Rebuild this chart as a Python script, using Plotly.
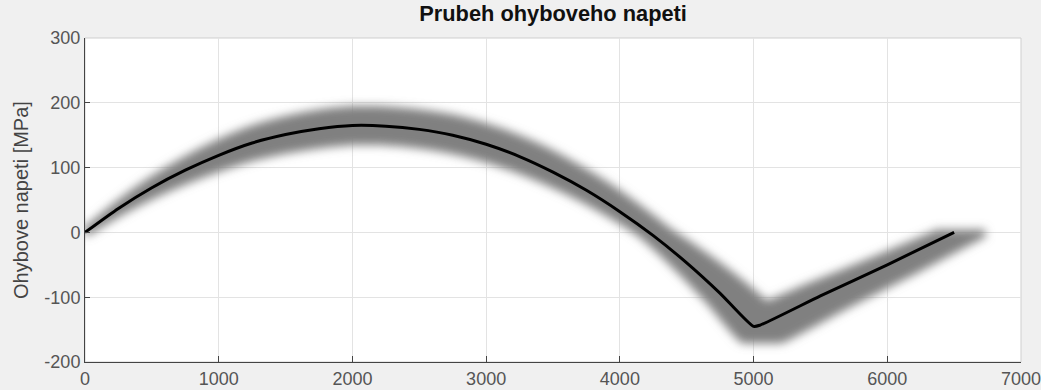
import numpy as np
import plotly.graph_objects as go

# Bending stress along the shaft [MPa] vs. position [mm]
position = [0, 250, 500, 750, 1000, 1250, 1500, 1750, 2000, 2250, 2500, 2750,
            3000, 3250, 3500, 3750, 4000, 4250, 4500, 4750, 5000, 5050,
            5500, 6000, 6500]
stress = [0, 37, 69, 96, 119, 138, 151, 160, 165, 164, 159, 150,
          136, 117, 93, 65, 32, -5, -47, -94, -145, -143,
          -98, -50, 0]

x_ticks = [0, 1000, 2000, 3000, 4000, 5000, 6000, 7000]
y_ticks = [-200, -100, 0, 100, 200, 300]

title_text = "Prubeh ohyboveho napeti"
y_title = "Ohybove napeti [MPa]"

FONT = "Liberation Sans, Arial, Helvetica, sans-serif"

xs = np.array(position, dtype=float)
ys = np.array(stress, dtype=float)

fig = go.Figure()

# Grey envelope: union of scaled copies of the curve, softened with a blur filter
band_x, band_y = [], []
for sx in np.linspace(0.985, 1.035, 7):
    for sy in np.linspace(0.86, 1.14, 9):
        band_x += list(xs * sx) + [None]
        band_y += list(ys * sy) + [None]

fig.add_trace(go.Scatter(
    x=band_x, y=band_y, mode="lines", connectgaps=False,
    line=dict(color="#808080", width=8, shape="spline", smoothing=0.6),
    hoverinfo="skip", showlegend=False,
))

# Main curve
fig.add_trace(go.Scatter(
    x=xs, y=ys, mode="lines",
    line=dict(color="black", width=3, shape="spline", smoothing=0.6),
    showlegend=False,
))

fig.update_layout(
    width=1041, height=390,
    margin=dict(l=85, r=20, t=38, b=28, autoexpand=False),
    paper_bgcolor="#f0f0f0",
    plot_bgcolor="white",
    font=dict(family=FONT, size=18, color="#4d4d4d"),
    title=dict(text=f"<b>{title_text}</b>", x=0.5313, xanchor="center",
               y=0.967, yanchor="middle",
               font=dict(family=FONT, size=21.8, color="#111111")),
    shapes=[dict(type="rect", xref="paper", yref="paper", x0=0, y0=0, x1=1, y1=1,
                 line=dict(color="#cfcfcf", width=1), layer="below")],
    annotations=[dict(text=y_title, xref="paper", yref="paper",
                      x=-(85 - 21) / 936, y=0.5, xanchor="center", yanchor="middle",
                      textangle=-90, showarrow=False,
                      font=dict(family=FONT, size=20, color="#444444"))],
)

fig.update_xaxes(
    range=[0, 7000], tickvals=x_ticks, ticktext=[str(v) for v in x_ticks],
    showgrid=True, gridcolor="#e3e3e3", gridwidth=1, automargin=False,
    zeroline=False, showline=True, linecolor="#444444", linewidth=1,
    ticks="inside", ticklen=6, tickcolor="#444444",
    tickfont=dict(size=18, color="#555555"), ticklabelstandoff=0,
    ticklabeloverflow="allow",
)
fig.update_yaxes(
    range=[-200, 300], tickvals=y_ticks, ticktext=[str(v) for v in y_ticks],
    showgrid=True, gridcolor="#e3e3e3", gridwidth=1, automargin=False,
    zeroline=False, showline=True, linecolor="#444444", linewidth=1,
    ticks="inside", ticklen=5, tickcolor="#444444",
    tickfont=dict(size=18, color="#555555"), ticklabeloverflow="allow",
)

# Blur the envelope trace (first scatter trace) with an SVG Gaussian filter
soften_js = """
var gd = document.getElementById('{plot_id}');
var svg = gd.querySelector('svg.main-svg');
var ns = 'http://www.w3.org/2000/svg';
var defs = svg.querySelector('defs');
if (!defs) { defs = document.createElementNS(ns, 'defs'); svg.insertBefore(defs, svg.firstChild); }
var f = document.createElementNS(ns, 'filter');
f.setAttribute('id', 'band-soften');
f.setAttribute('x', '-20%'); f.setAttribute('y', '-30%');
f.setAttribute('width', '140%'); f.setAttribute('height', '160%');
var g = document.createElementNS(ns, 'feGaussianBlur');
g.setAttribute('stdDeviation', '5');
f.appendChild(g);
defs.appendChild(f);
var traces = gd.querySelectorAll('.scatterlayer .trace');
if (traces.length) { traces[0].setAttribute('filter', 'url(#band-soften)'); }
"""

fig.write_html("out.html", post_script=soften_js)
